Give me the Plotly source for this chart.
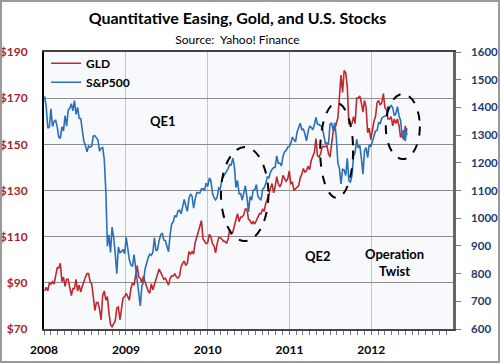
import pandas as pd
import plotly.graph_objects as go

# Weekly closes (Fridays, starting 2008-01-04)
sp500 = [
    # 2008
    1440, 1401, 1325, 1330, 1395, 1331, 1349, 1353, 1330, 1293, 1288, 1330, 1315,
    1370, 1332, 1390, 1397, 1413, 1388, 1425, 1375, 1400, 1360, 1360, 1318, 1278,
    1262, 1240, 1260, 1257, 1260, 1296, 1298, 1292, 1282, 1242, 1252, 1255, 1213,
    1099, 899, 940, 876, 968, 930, 873, 800, 896, 876, 879, 887, 872,
    # 2009
    931, 890, 850, 832, 826, 869, 827, 770, 735, 683, 756, 768, 816,
    843, 857, 870, 866, 877, 929, 882, 887, 919, 940, 946, 921, 918,
    896, 879, 940, 979, 987, 1010, 1004, 1026, 1029, 1016, 1042, 1068, 1044,
    1025, 1071, 1087, 1080, 1036, 1069, 1093, 1091, 1091, 1106, 1106, 1102, 1126, 1115,
    # 2010
    1145, 1136, 1092, 1074, 1066, 1075, 1109, 1105, 1138, 1150, 1160, 1167, 1179,
    1194, 1192, 1217, 1187, 1111, 1136, 1088, 1089, 1065, 1092, 1117, 1076, 1023,
    1078, 1065, 1102, 1102, 1121, 1079, 1071, 1065, 1105, 1110, 1125, 1149, 1146,
    1166, 1176, 1183, 1183, 1225, 1199, 1199, 1189, 1224, 1240, 1244, 1257, 1258,
    # 2011
    1271, 1293, 1283, 1276, 1311, 1329, 1343, 1320, 1321, 1304, 1279, 1313, 1332,
    1328, 1319, 1337, 1364, 1340, 1338, 1333, 1331, 1300, 1271, 1271, 1268, 1339,
    1344, 1316, 1345, 1292, 1199, 1179, 1124, 1177, 1174, 1154, 1216, 1136, 1131,
    1155, 1224, 1238, 1285, 1253, 1263, 1216, 1159, 1244, 1255, 1219, 1265, 1258,
    # 2012
    1278, 1289, 1315, 1316, 1345, 1342, 1361, 1366, 1370, 1371, 1404, 1397, 1408,
    1398, 1370, 1378, 1403, 1369, 1353, 1295, 1318, 1278, 1325,
]

gld = [
    # 2008
    86.5, 88, 86.5, 90, 89.5, 90.5, 89.5, 92.5, 96.5, 96.5, 98.5, 90.5, 92.5,
    88.5, 91.5, 91.5, 87, 84.5, 87.5, 87.5, 91.5, 86.5, 89, 86, 88.5, 91,
    92.5, 94, 94, 90.5, 89.5, 84, 78, 81.5, 81.5, 78.5, 74, 84.5, 86.5,
    82.5, 84, 77, 72, 71, 72.5, 73.5, 79, 79.5, 74, 80, 83.5, 84,
    # 2009
    85.5, 84, 82.5, 87.5, 90, 89, 92.5, 97.5, 92.5, 92, 90, 93, 90.5,
    88, 86.5, 85.5, 89.5, 87, 89.5, 91, 93.5, 96, 94.5, 92.5, 91.5, 92,
    90.5, 89, 92, 93, 93, 94, 92.5, 92, 93, 97, 98.5, 99.5, 97.5,
    98.5, 103.5, 102.5, 103.5, 102.5, 107.5, 109.5, 112, 114.5, 117, 109, 108, 107, 107.5,
    # 2010
    111, 110, 107, 106, 103, 107, 109.5, 109.5, 109, 108, 108, 107, 109,
    113, 111, 112, 115, 117.5, 120, 116.5, 118.5, 118.5, 119.5, 122, 122, 117.5,
    117, 115.5, 116.5, 115.5, 117.5, 118.5, 120, 120, 122, 121, 124.5, 126, 128,
    131, 133, 129, 131.5, 136, 133, 131.5, 133, 136.5, 135, 134, 135, 138.5,
    # 2011
    133, 133.5, 130, 131, 131.5, 132, 135.5, 137, 139.5, 138, 138.5, 140.5, 139,
    143, 145, 146.5, 152.5, 145, 144.5, 146, 149, 149, 149, 149.5, 146, 144.5,
    151, 155.5, 156.5, 158.5, 161.5, 170.5, 180, 172.5, 182, 181, 175, 159, 158.5,
    159, 162, 159, 170, 170, 171, 168, 164, 169, 166, 155, 157, 152,
    # 2012
    157, 160, 162, 168, 169, 167, 168, 172, 166, 165, 161, 161, 162,
    158, 161, 159, 161, 158, 153, 154, 152, 158, 154,
]

year_ticks = ["2008-01-01", "2009-01-01", "2010-01-01", "2011-01-01", "2012-01-01"]
year_labels = ["2008", "2009", "2010", "2011", "2012"]
gld_ticks = [70, 90, 110, 130, 150, 170, 190]
sp_ticks = [600, 700, 800, 900, 1000, 1100, 1200, 1300, 1400, 1500, 1600]

sp_dates = pd.date_range("2008-01-04", periods=len(sp500), freq="W-FRI")
gld_dates = pd.date_range("2008-01-04", periods=len(gld), freq="W-FRI")

RED = "#c0282e"
BLUE = "#2b6fb8"
FONT = "Lato"

fig = go.Figure()
fig.add_trace(go.Scatter(x=gld_dates, y=gld, name="GLD", mode="lines",
                         line=dict(color=RED, width=1.6), yaxis="y"))
fig.add_trace(go.Scatter(x=sp_dates, y=sp500, name="S&P500", mode="lines",
                         line=dict(color=BLUE, width=1.6), yaxis="y2"))

# dashed ellipses
ellipses = [
    ("2010-03-01", "2010-09-29", 108.1, 148.8),
    ("2011-05-18", "2011-10-12", 126.8, 167.9),
    ("2012-03-06", "2012-08-05", 143.6, 171.8),
]
for x0, x1, y0, y1 in ellipses:
    fig.add_shape(type="circle", xref="x", yref="y", x0=x0, x1=x1, y0=y0, y1=y1,
                  line=dict(color="black", width=2, dash="dash"), layer="above")

# outer frame
fig.add_shape(type="rect", xref="paper", yref="paper",
              x0=-43/409, x1=1+46/409, y0=-33/277, y1=1+51/277,
              line=dict(color="#9a9a9a", width=2))

fig.add_annotation(x="2009-06-15", y=160, xref="x", yref="y", text="<b>QE1</b>",
                   showarrow=False, font=dict(size=13, color="black", family=FONT))
fig.add_annotation(x="2011-05-10", y=101.5, xref="x", yref="y", text="<b>QE2</b>",
                   showarrow=False, font=dict(size=13, color="black", family=FONT))
fig.add_annotation(x="2012-04-15", y=99, xref="x", yref="y",
                   text="<b>Operation<br>Twist</b>",
                   showarrow=False, font=dict(size=13, color="black", family=FONT))

fig.update_layout(
    width=500, height=363,
    margin=dict(l=44, r=47, t=52, b=34, autoexpand=False),
    paper_bgcolor="white",
    plot_bgcolor="#f7f9fc",
    font=dict(family=FONT, color="black"),
    title=dict(
        text="<b>Quantitative Easing, Gold, and U.S. Stocks</b><br>"
             "<span style='font-size:12px;font-weight:normal'>Source:  Yahoo! Finance</span>",
        x=0.475, xanchor="center", y=0.935, yanchor="top",
        font=dict(size=16, color="black", family=FONT),
    ),
    showlegend=True,
    legend=dict(x=0.005, y=1.012, xanchor="left", yanchor="top",
                bgcolor="rgba(0,0,0,0)", borderwidth=0,
                font=dict(size=12, color="black", family=FONT, weight="bold"),
                tracegroupgap=0, itemwidth=30),
    xaxis=dict(
        type="date", range=["2008-01-01", "2012-12-31"], automargin=False,
        tickvals=year_ticks, ticktext=year_labels,
        showgrid=True, gridcolor="#c4c4c4", gridwidth=1,
        showline=True, linecolor="#444", linewidth=1.5, mirror=True,
        ticks="outside", ticklen=4, tickcolor="#777",
        minor=dict(dtick="M1", ticks="outside", ticklen=4, tickcolor="#777", showgrid=False),
        tickfont=dict(size=12, color="black", family=FONT, weight="bold"),
        ticklabelstandoff=5, zeroline=False,
    ),
    yaxis=dict(
        range=[70, 190], tickvals=gld_ticks, ticktext=["$%d" % v for v in gld_ticks],
        automargin=False,
        showgrid=True, gridcolor="#8c8c8c", gridwidth=1,
        showline=True, linecolor="black", linewidth=2,
        ticks="", tickfont=dict(size=12, color="#a8232b", family=FONT, weight="bold"),
        ticklabelstandoff=12, zeroline=False,
    ),
    yaxis2=dict(
        range=[600, 1600], tickvals=sp_ticks, overlaying="y", side="right",
        automargin=False,
        showgrid=False, showline=True, linecolor="#666", linewidth=2.5,
        ticks="outside", ticklen=5, tickcolor="#777",
        tickfont=dict(size=11.5, color="#1f3a6e", family=FONT, weight="bold"),
        ticklabelstandoff=8, zeroline=False,
    ),
)

fig.write_html("out.html",
               config={"displayModeBar": False},
               post_script="document.body.style.margin='0';document.body.style.padding='0';")
